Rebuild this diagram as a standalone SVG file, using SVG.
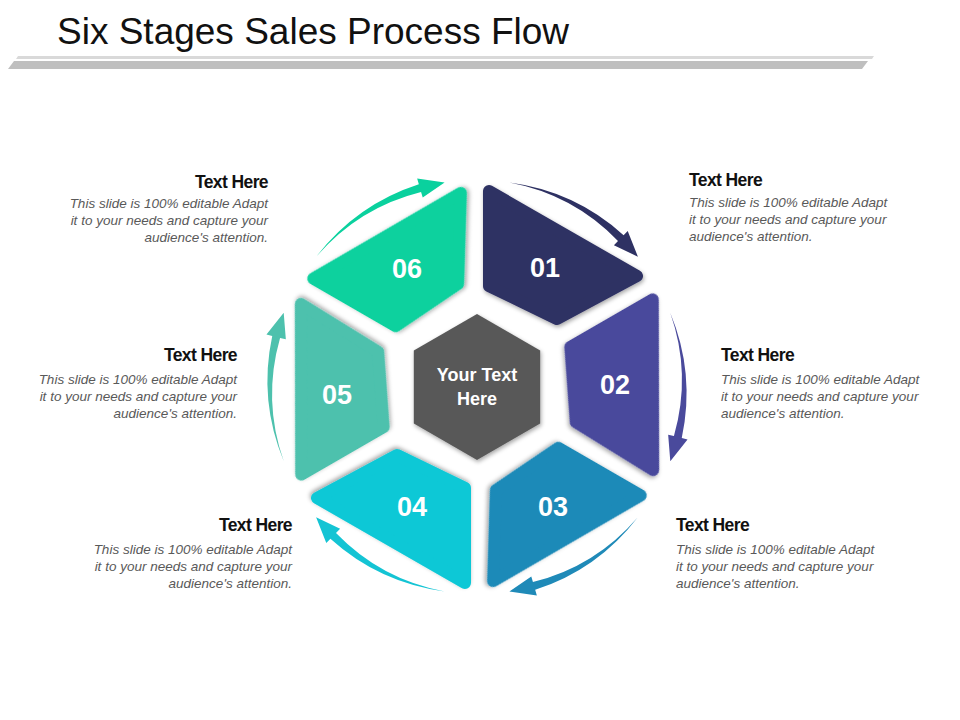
<svg xmlns="http://www.w3.org/2000/svg" xmlns:xlink="http://www.w3.org/1999/xlink" width="960" height="720" viewBox="0 0 960 720">
<style>
.num{font-family:"Liberation Sans",Arial,sans-serif;font-weight:bold;font-size:27px;fill:#fff;text-anchor:middle}
.ctr{font-size:18px}
.th{font-family:"Liberation Sans",Arial,sans-serif;font-weight:bold;font-size:17.5px;fill:#111;letter-spacing:-0.6px}
.tb{font-family:"Liberation Sans",Arial,sans-serif;font-style:italic;font-size:13.5px;fill:#595959}
.r{text-anchor:end}
.seg{stroke-width:12;stroke-linejoin:round}
</style>
<defs>
<path id="seg" d="M12,-196 L160,-111 L80,-68 L12,-101 Z"/>
<path id="arr" d="M32.4,-204.4 A211,211 0 0 1 146.6,-151.8 L150.7,-156.1 L160.9,-130.3 L136.9,-141.7 L141,-146 A203,203 0 0 0 32.4,-204.4 Z"/>
<filter id="sh" x="-20%" y="-20%" width="140%" height="140%"><feDropShadow dx="1" dy="2" stdDeviation="2" flood-color="#000" flood-opacity="0.35"/></filter>
</defs>
<rect width="960" height="720" fill="#fff"/>
<text x="57" y="44" font-family="'Liberation Sans',Arial,sans-serif" font-size="37" fill="#111">Six Stages Sales Process Flow</text>
<polygon points="18,56 874,56 872,59 16,59" fill="#d9d9d9"/>
<polygon points="14,61 868,61 862,69 8,69" fill="#bfbfbf"/>
<g id="connectors" transform="translate(477,387)">
<use xlink:href="#arr" fill="#2e3163"/>
<use xlink:href="#arr" fill="#4a4a9c" transform="rotate(60)"/>
<use xlink:href="#arr" fill="#1f8ab8" transform="rotate(120)"/>
<use xlink:href="#arr" fill="#14c4d4" transform="rotate(180)"/>
<use xlink:href="#arr" fill="#4dc1ad" transform="rotate(240)"/>
<use xlink:href="#arr" fill="#0ad19e" transform="rotate(300)"/>
</g>
<g id="n01"><use xlink:href="#seg" class="seg" fill="#2e3163" stroke="#2e3163" filter="url(#sh)" transform="translate(477,387)"/><text class="num" x="545" y="277">01</text></g>
<g id="n02"><use xlink:href="#seg" class="seg" fill="#4a4a9c" stroke="#4a4a9c" filter="url(#sh)" transform="translate(477,387) rotate(60)"/><text class="num" x="615" y="394">02</text></g>
<g id="n03"><use xlink:href="#seg" class="seg" fill="#1f8ab8" stroke="#1f8ab8" filter="url(#sh)" transform="translate(477,387) rotate(120)"/><text class="num" x="553" y="516">03</text></g>
<g id="n04"><use xlink:href="#seg" class="seg" fill="#0ac8d6" stroke="#0ac8d6" filter="url(#sh)" transform="translate(477,387) rotate(180)"/><text class="num" x="412" y="516">04</text></g>
<g id="n05"><use xlink:href="#seg" class="seg" fill="#4dc1ad" stroke="#4dc1ad" filter="url(#sh)" transform="translate(477,387) rotate(240)"/><text class="num" x="337" y="404">05</text></g>
<g id="n06"><use xlink:href="#seg" class="seg" fill="#0ad19e" stroke="#0ad19e" filter="url(#sh)" transform="translate(477,387) rotate(300)"/><text class="num" x="407" y="278">06</text></g>
<g id="center"><polygon points="477,314 540.2,350.5 540.2,423.5 477,460 413.8,423.5 413.8,350.5" fill="#595959" filter="url(#sh)"/>
<text class="num ctr" x="477" y="381">Your Text</text><text class="num ctr" x="477" y="405">Here</text></g>
<g id="t1"><text class="th" x="689" y="186">Text Here</text><text class="tb" x="689" y="207">This slide is 100% editable Adapt</text><text class="tb" x="689" y="224">it to your needs and capture your</text><text class="tb" x="689" y="241">audience's attention.</text></g>
<g id="t2"><text class="th" x="721" y="361">Text Here</text><text class="tb" x="721" y="384">This slide is 100% editable Adapt</text><text class="tb" x="721" y="401">it to your needs and capture your</text><text class="tb" x="721" y="418">audience's attention.</text></g>
<g id="t3"><text class="th" x="676" y="531">Text Here</text><text class="tb" x="676" y="554">This slide is 100% editable Adapt</text><text class="tb" x="676" y="571">it to your needs and capture your</text><text class="tb" x="676" y="588">audience's attention.</text></g>
<g id="t6"><text class="th r" x="268" y="188">Text Here</text><text class="tb r" x="268" y="208">This slide is 100% editable Adapt</text><text class="tb r" x="268" y="225">it to your needs and capture your</text><text class="tb r" x="268" y="242">audience's attention.</text></g>
<g id="t5"><text class="th r" x="237" y="361">Text Here</text><text class="tb r" x="237" y="384">This slide is 100% editable Adapt</text><text class="tb r" x="237" y="401">it to your needs and capture your</text><text class="tb r" x="237" y="418">audience's attention.</text></g>
<g id="t4"><text class="th r" x="292" y="531">Text Here</text><text class="tb r" x="292" y="554">This slide is 100% editable Adapt</text><text class="tb r" x="292" y="571">it to your needs and capture your</text><text class="tb r" x="292" y="588">audience's attention.</text></g>
</svg>
